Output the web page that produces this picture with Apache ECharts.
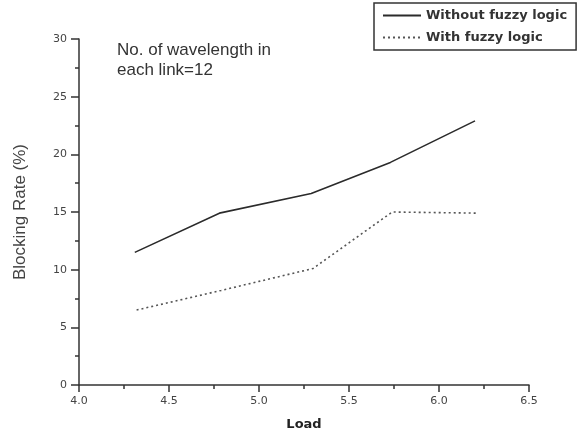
<!DOCTYPE html>
<html>
<head>
<meta charset="utf-8">
<script src="https://cdn.jsdelivr.net/npm/echarts@6/dist/echarts.min.js"></script>
<style>
  html, body { margin: 0; padding: 0; background: #fff; }
  #chart { width: 582px; height: 430px; }
</style>
</head>
<body>
<div id="chart"></div>
<script>
// data
var loadNoFuzzy = [4.31, 4.78, 5.29, 5.73, 6.20];
var rateNoFuzzy = [11.5, 14.9, 16.6, 19.3, 22.9];
var loadFuzzy = [4.32, 4.79, 5.30, 5.74, 6.22];
var rateFuzzy = [6.5, 8.2, 10.1, 15.0, 14.9];
var seriesNames = ['Without fuzzy logic', 'With fuzzy logic'];

function pairs(xs, ys) {
    var out = [];
    for (var i = 0; i < xs.length; i++) out.push([xs[i], ys[i]]);
    return out;
}

function drawChart() {
    var myChart = echarts.init(document.getElementById('chart'));
    var option = {
        backgroundColor: '#fff',
        animation: false,
        color: ['#2b2b2b', '#555'],
        legend: {
            orient: 'vertical',
            left: 374,
            top: 3,
            padding: [6, 9, 6, 8],
            itemGap: 9,
            itemWidth: 38,
            itemHeight: 12,
            borderColor: '#333',
            borderWidth: 1.5,
            itemStyle: {color: 'transparent', borderWidth: 0},
            data: seriesNames,
            textStyle: {
                color: '#333',
                fontFamily: 'DejaVu Sans',
                fontWeight: 'bold',
                fontSize: 13
            }
        },
        grid: {
            left: 79,
            right: 53,
            top: 39,
            bottom: 45,
            outerBoundsMode: 'none'
        },
        graphic: [
            {
                type: 'text',
                left: 117,
                top: 40,
                style: {
                    text: 'No. of wavelength in\neach link=12',
                    fill: '#333',
                    font: '17px "Liberation Sans"',
                    lineHeight: 20
                }
            }
        ],
        xAxis: {
            type: 'value',
            min: 4.0,
            max: 6.5,
            interval: 0.5,
            name: 'Load',
            nameLocation: 'middle',
            nameGap: 33,
            nameTextStyle: {
                color: '#222',
                fontFamily: 'DejaVu Sans',
                fontWeight: 'bold',
                fontSize: 13
            },
            splitLine: {show: false},
            axisLine: {lineStyle: {color: '#333', width: 1.5}},
            axisTick: {length: 7, lineStyle: {color: '#333', width: 1.5}},
            minorTick: {show: true, splitNumber: 2, length: 4, lineStyle: {color: '#333', width: 1.5}},
            axisLabel: {
                color: '#444',
                fontFamily: 'DejaVu Sans',
                fontSize: 11,
                margin: 11,
                formatter: function (v) { return v.toFixed(1); }
            }
        },
        yAxis: {
            type: 'value',
            min: 0,
            max: 30,
            interval: 5,
            name: 'Blocking Rate (%)',
            nameLocation: 'middle',
            nameGap: 50,
            nameTextStyle: {
                color: '#444',
                fontFamily: 'Liberation Sans',
                fontSize: 17
            },
            splitLine: {show: false},
            axisLine: {show: true, lineStyle: {color: '#333', width: 1.5}},
            axisTick: {show: true, length: 8, lineStyle: {color: '#333', width: 1.5}},
            minorTick: {show: true, splitNumber: 2, length: 4, lineStyle: {color: '#333', width: 1.5}},
            axisLabel: {
                color: '#444',
                fontFamily: 'DejaVu Sans',
                fontSize: 11,
                margin: 12
            }
        },
        series: [
            {
                name: seriesNames[0],
                type: 'line',
                symbol: 'none',
                data: pairs(loadNoFuzzy, rateNoFuzzy),
                lineStyle: {color: '#2b2b2b', width: 1.6}
            },
            {
                name: seriesNames[1],
                type: 'line',
                symbol: 'none',
                data: pairs(loadFuzzy, rateFuzzy),
                lineStyle: {color: '#555', width: 1.6, type: [2, 3]}
            }
        ]
    };

    myChart.setOption(option);
}

drawChart();
</script>
</body>
</html>
